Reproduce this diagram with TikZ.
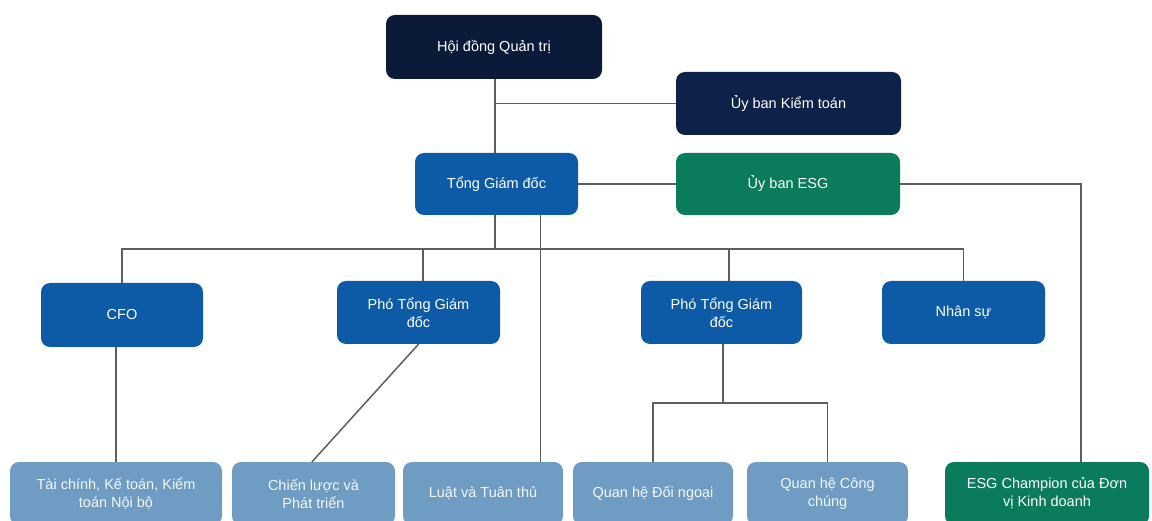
\documentclass[tikz,border=0pt]{standalone}
\usepackage{fontspec}
\setmainfont{Liberation Sans}
\usetikzlibrary{calc}
\definecolor{navyA}{HTML}{0B1A38}
\definecolor{navyB}{HTML}{0E2249}
\definecolor{blueM}{HTML}{0D5AA7}
\definecolor{greenE}{HTML}{0A7B5C}
\definecolor{lightB}{HTML}{6E9CC3}
\definecolor{lineG}{HTML}{5E5E5E}
\tikzset{
  box/.style={rectangle, rounded corners=9pt, inner sep=0pt, align=center,
    text=white, font=\fontsize{14.5}{18}\selectfont},
  dark/.style={box, fill=navyA},
  darkb/.style={box, fill=navyB},
  mid/.style={box, fill=blueM},
  grn/.style={box, fill=greenE},
  low/.style={box, fill=lightB, text=white!92!lightB},
  conn/.style={draw=lineG, line width=1.5pt}
}
\begin{document}
\begin{tikzpicture}[x=1pt,y=-1pt]
\useasboundingbox (0,0) rectangle (1152,521);
\clip (0,0) rectangle (1152,521);
% top
\node[dark, minimum width=216pt, minimum height=64pt] (hdqt) at (494,47) {Hội đồng Quản trị};
\node[darkb, minimum width=225pt, minimum height=63pt] (kt) at (788.5,103.5) {Ủy ban Kiểm toán};
\node[mid, minimum width=163pt, minimum height=62pt] (tgd) at (496.5,184) {Tổng Giám đốc};
\node[grn, minimum width=224pt, minimum height=62pt] (esg) at (788,184) {Ủy ban ESG};
% middle
\node[mid, minimum width=162pt, minimum height=64pt] (cfo) at (122,315) {CFO};
\node[mid, minimum width=163pt, minimum height=63pt] (p1) at (418.5,312.5) {Phó Tổng Giám\\đốc};
\node[mid, minimum width=161pt, minimum height=63pt] (p2) at (721.5,312.5) {Phó Tổng Giám\\đốc};
\node[mid, minimum width=163pt, minimum height=63pt] (ns) at (963.5,312.5) {Nhân sự};
% bottom
\node[low, minimum width=212pt, minimum height=63pt] (tc) at (116,493.5) {Tài chính, Kế toán, Kiểm\\toán Nội bộ};
\node[low, minimum width=163pt, minimum height=63pt] (cl) at (313.5,493.5) {Chiến lược và\\Phát triển};
\node[low, minimum width=160pt, minimum height=63pt] (luat) at (483,493.5) {Luật và Tuân thủ};
\node[low, minimum width=160pt, minimum height=63pt] (dn) at (653,493.5) {Quan hệ Đối ngoại};
\node[low, minimum width=161pt, minimum height=63pt] (cc) at (827.5,493.5) {Quan hệ Công\\chúng};
\node[grn, minimum width=204pt, minimum height=63pt] (esgc) at (1047,493.5) {ESG Champion của Đơn\\vị Kinh doanh};
% connectors
\coordinate (bus) at (495,249);
\coordinate (split) at (723,403);
\draw[conn] ([xshift=1pt]hdqt.south) -- ([xshift=1pt]hdqt.south |- tgd.north);
\draw[conn] (kt.west) -- ([xshift=1pt]kt.west -| hdqt.south);
\draw[conn] (tgd.east) -- (esg.west);
\draw[conn] (esg.east) -| ([xshift=34pt]esgc.north);
\draw[conn] (bus |- tgd.south) -- (bus);
\draw[conn] (cfo.north) -- (cfo.north |- bus) -- (ns.north |- bus) -- (ns.north);
\draw[conn] ([xshift=4.5pt]p1.north) -- ([xshift=4.5pt]p1.north |- bus);
\draw[conn] ([xshift=7.5pt]p2.north) -- ([xshift=7.5pt]p2.north |- bus);
\draw[conn] ([xshift=44pt]tgd.south) -- ([xshift=44pt]tgd.south |- luat.north);
\draw[conn] (tc.north) -- (tc.north |- cfo.south);
\draw[conn] (p1.south) -- ([xshift=-1.5pt]cl.north);
\draw[conn] ([xshift=1.5pt]p2.south) -- (split);
\draw[conn] (dn.north) -- (dn.north |- split) -- (cc.north |- split) -- (cc.north);
\end{tikzpicture}
\end{document}
